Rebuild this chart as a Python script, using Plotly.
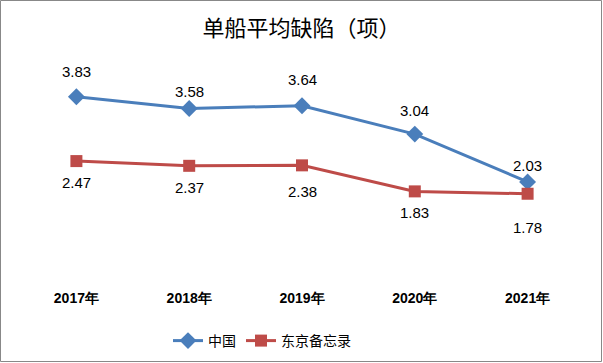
import plotly.graph_objects as go

years = ["2017年", "2018年", "2019年", "2020年", "2021年"]
china = [3.83, 3.58, 3.64, 3.04, 2.03]
tokyo = [2.47, 2.37, 2.38, 1.83, 1.78]
china_label_shift = [25, 17, 26, 24, 16]
tokyo_label_shift = [-21, -22, -26, -21, -34]

W, H = 603, 363
mt, mb = 65, 85
# plot region from pixel 20 to 584 holds the 5 categories; widen axis to full width
cat_w = (584 - 20) / 5
x_lo = -0.5 - 20 / cat_w
x_hi = 4.5 + (W - 584) / cat_w

fig = go.Figure()
fig.add_trace(go.Scatter(x=years, y=china, name="中国", mode="lines+markers",
                         line=dict(color="#4A7EBB", width=3),
                         marker=dict(symbol="diamond", size=13, color="#4A7EBB")))
fig.add_trace(go.Scatter(x=years, y=tokyo, name="东京备忘录", mode="lines+markers",
                         line=dict(color="#BE4B48", width=3),
                         marker=dict(symbol="square", size=12, color="#BE4B48")))

ann = []
for x, v, s in zip(years, china, china_label_shift):
    ann.append(dict(x=x, y=v, text=f"{v:.2f}", showarrow=False, yshift=s,
                    font=dict(family="Liberation Sans, Arial", size=15, color="#000")))
for x, v, s in zip(years, tokyo, tokyo_label_shift):
    ann.append(dict(x=x, y=v, text=f"{v:.2f}", showarrow=False, yshift=s,
                    font=dict(family="Liberation Sans, Arial", size=15, color="#000")))

ph = H - mt - mb
fig.update_layout(
    width=W, height=H,
    margin=dict(l=0, r=0, t=mt, b=mb),
    paper_bgcolor="white", plot_bgcolor="white",
    title=dict(text="单船平均缺陷（项）", x=0.5, xanchor="center", y=1 - 28 / H, yanchor="middle",
               font=dict(family="Noto Sans CJK SC", size=22, color="#000")),
    xaxis=dict(showgrid=False, showline=False, zeroline=False, ticks="",
               range=[x_lo, x_hi], ticklabelstandoff=10, automargin=False,
               tickfont=dict(family="Liberation Sans, Arial", size=14, color="#000", weight="bold")),
    yaxis=dict(range=[0, 4.5], visible=False),
    legend=dict(orientation="h", x=168 / W, xanchor="left",
                y=-(341 - (H - mb)) / ph, yanchor="middle",
                font=dict(family="Noto Sans CJK SC", size=14, color="#000"),
                itemwidth=30, tracegroupgap=0),
    annotations=ann,
    shapes=[dict(type="rect", xref="paper", yref="paper",
                 x0=0.5 / W, x1=(W - 1.5) / W,
                 y0=-(mb - 1.5) / ph, y1=(H - mb - 0.5) / ph,
                 line=dict(color="#888", width=1))],
)
fig.write_html("out.html", post_script="document.body.style.margin='0';",
               config={"displayModeBar": False})
